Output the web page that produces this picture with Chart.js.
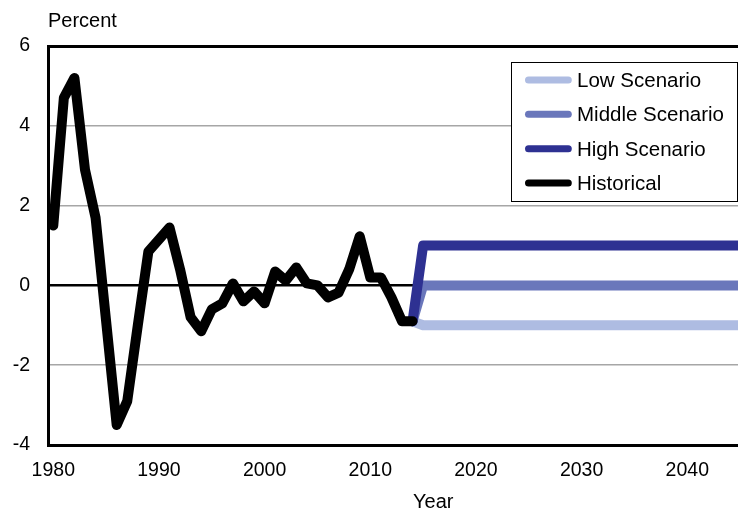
<!DOCTYPE html>
<html>
<head>
<meta charset="utf-8">
<script src="https://cdn.jsdelivr.net/npm/chart.js@4.4.1/dist/chart.umd.min.js"></script>
<style>
  html, body { margin: 0; padding: 0; background: #ffffff; }
  #wrap { width: 738px; height: 510px; }
</style>
</head>
<body>
<div id="wrap"><canvas id="c" width="738" height="510"></canvas></div>
<script>
// ---- data ----
const histYears = [1980,1981,1982,1983,1984,1985,1986,1987,1988,1989,
                   1990,1991,1992,1993,1994,1995,1996,1997,1998,1999,
                   2000,2001,2002,2003,2004,2005,2006,2007,2008,2009,
                   2010,2011,2012,2013,2014];
const histValues = [1.5,4.7,5.2,2.9,1.7,-0.9,-3.5,-2.9,-1.0,0.85,
                    1.15,1.45,0.4,-0.8,-1.15,-0.6,-0.45,0.05,-0.4,-0.15,
                    -0.45,0.35,0.12,0.45,0.05,0.0,-0.3,-0.18,0.4,1.23,
                    0.2,0.2,-0.3,-0.9,-0.9];
const scenYears = [2014,2015,2016,2017,2018,2019,2020,2021,2022,2023,
                   2024,2025,2026,2027,2028,2029,2030,2031,2032,2033,
                   2034,2035,2036,2037,2038,2039,2040,2041,2042,2043,
                   2044,2045];
const lowValues  = [-0.9,-1,-1,-1,-1,-1,-1,-1,-1,-1,
                    -1,-1,-1,-1,-1,-1,-1,-1,-1,-1,
                    -1,-1,-1,-1,-1,-1,-1,-1,-1,-1,
                    -1,-1];
const midValues  = [-0.9,0,0,0,0,0,0,0,0,0,
                    0,0,0,0,0,0,0,0,0,0,
                    0,0,0,0,0,0,0,0,0,0,
                    0,0];
const highValues = [-0.9,1,1,1,1,1,1,1,1,1,
                    1,1,1,1,1,1,1,1,1,1,
                    1,1,1,1,1,1,1,1,1,1,
                    1,1];
const xTickValues = [1980,1990,2000,2010,2020,2030,2040];
const yTickValues = [-4,-2,0,2,4,6];
const seriesNames = ['Low Scenario','Middle Scenario','High Scenario','Historical'];
const seriesColors = ['#AEBCE2','#6A77BB','#2E3192','#000000'];
const xAxisTitle = 'Year';
const yAxisTitle = 'Percent';

// ---- build ----
const pts = (xs, ys) => xs.map((x, i) => ({ x: x, y: ys[i] }));
const FONT = "'Liberation Sans', Arial, sans-serif";

function lineDs(label, data, color) {
  return {
    label: label, data: data, borderColor: color, backgroundColor: color,
    borderWidth: 10, pointRadius: 0, pointHoverRadius: 0, tension: 0,
    borderCapStyle: 'round', borderJoinStyle: 'round', fill: false
  };
}

const legendPlugin = {
  id: 'customLegend',
  afterDraw(chart) {
    const ctx = chart.ctx;
    ctx.save();
    // legend box
    ctx.fillStyle = '#ffffff';
    ctx.fillRect(511, 62, 226, 140);
    ctx.strokeStyle = '#000000';
    ctx.lineWidth = 1;
    ctx.strokeRect(511.5, 62.5, 226, 139);
    const rows = [0, 1, 2, 3];
    rows.forEach((i) => {
      const base = 86.7 + i * 34.4;
      const cy = base - 6.8;
      ctx.strokeStyle = seriesColors[i];
      ctx.lineWidth = 7;
      ctx.lineCap = 'round';
      ctx.beginPath();
      ctx.moveTo(528.5, cy);
      ctx.lineTo(568.3, cy);
      ctx.stroke();
      ctx.fillStyle = '#000000';
      ctx.font = '20.5px ' + FONT;
      ctx.textAlign = 'left';
      ctx.textBaseline = 'alphabetic';
      ctx.fillText(seriesNames[i], 577, base);
    });
    // axis titles
    ctx.font = '20px ' + FONT;
    ctx.fillStyle = '#000000';
    ctx.textAlign = 'left';
    ctx.textBaseline = 'alphabetic';
    ctx.fillText(yAxisTitle, 48, 27);
    ctx.fillText(xAxisTitle, 413, 507.5);
    ctx.restore();
  }
};

new Chart(document.getElementById('c'), {
  type: 'line',
  data: {
    datasets: [
      lineDs(seriesNames[3], pts(histYears, histValues), seriesColors[3]),
      lineDs(seriesNames[2], pts(scenYears, highValues), seriesColors[2]),
      lineDs(seriesNames[1], pts(scenYears, midValues), seriesColors[1]),
      lineDs(seriesNames[0], pts(scenYears, lowValues), seriesColors[0])
    ]
  },
  options: {
    responsive: false,
    animation: false,
    events: [],
    layout: { padding: { top: 46, left: 0, right: 0, bottom: 0 } },
    plugins: { legend: { display: false }, tooltip: { enabled: false }, title: { display: false } },
    scales: {
      x: {
        type: 'linear', min: 1979.5, max: 2044.8,
        afterBuildTicks: (s) => { s.ticks = xTickValues.map(v => ({ value: v })); },
        afterFit: (s) => { s.height = 65; },
        grid: { display: false, drawTicks: false },
        border: { display: true, color: '#000000', width: 3 },
        ticks: { color: '#000000', padding: 14, maxRotation: 0, autoSkip: false,
                 font: { family: FONT, size: 19.5 },
                 callback: (v) => String(v) }
      },
      y: {
        type: 'linear', min: -4, max: 6,
        afterBuildTicks: (s) => { s.ticks = yTickValues.map(v => ({ value: v })); },
        afterFit: (s) => { s.width = 48; },
        grid: {
          drawTicks: false,
          color: (c) => (c.tick && (c.tick.value === 0 || c.tick.value === 6 || c.tick.value === -4)) ? '#000000' : '#A6A6A6',
          lineWidth: (c) => (c.tick && c.tick.value === 6) ? 3 : (c.tick && c.tick.value === 0) ? 2.5 : 1.5
        },
        border: { display: true, color: '#000000', width: 3 },
        ticks: { color: '#000000', padding: 18, font: { family: FONT, size: 19.5 },
                 callback: (v) => String(v) }
      }
    }
  },
  plugins: [legendPlugin]
});
</script>
</body>
</html>
